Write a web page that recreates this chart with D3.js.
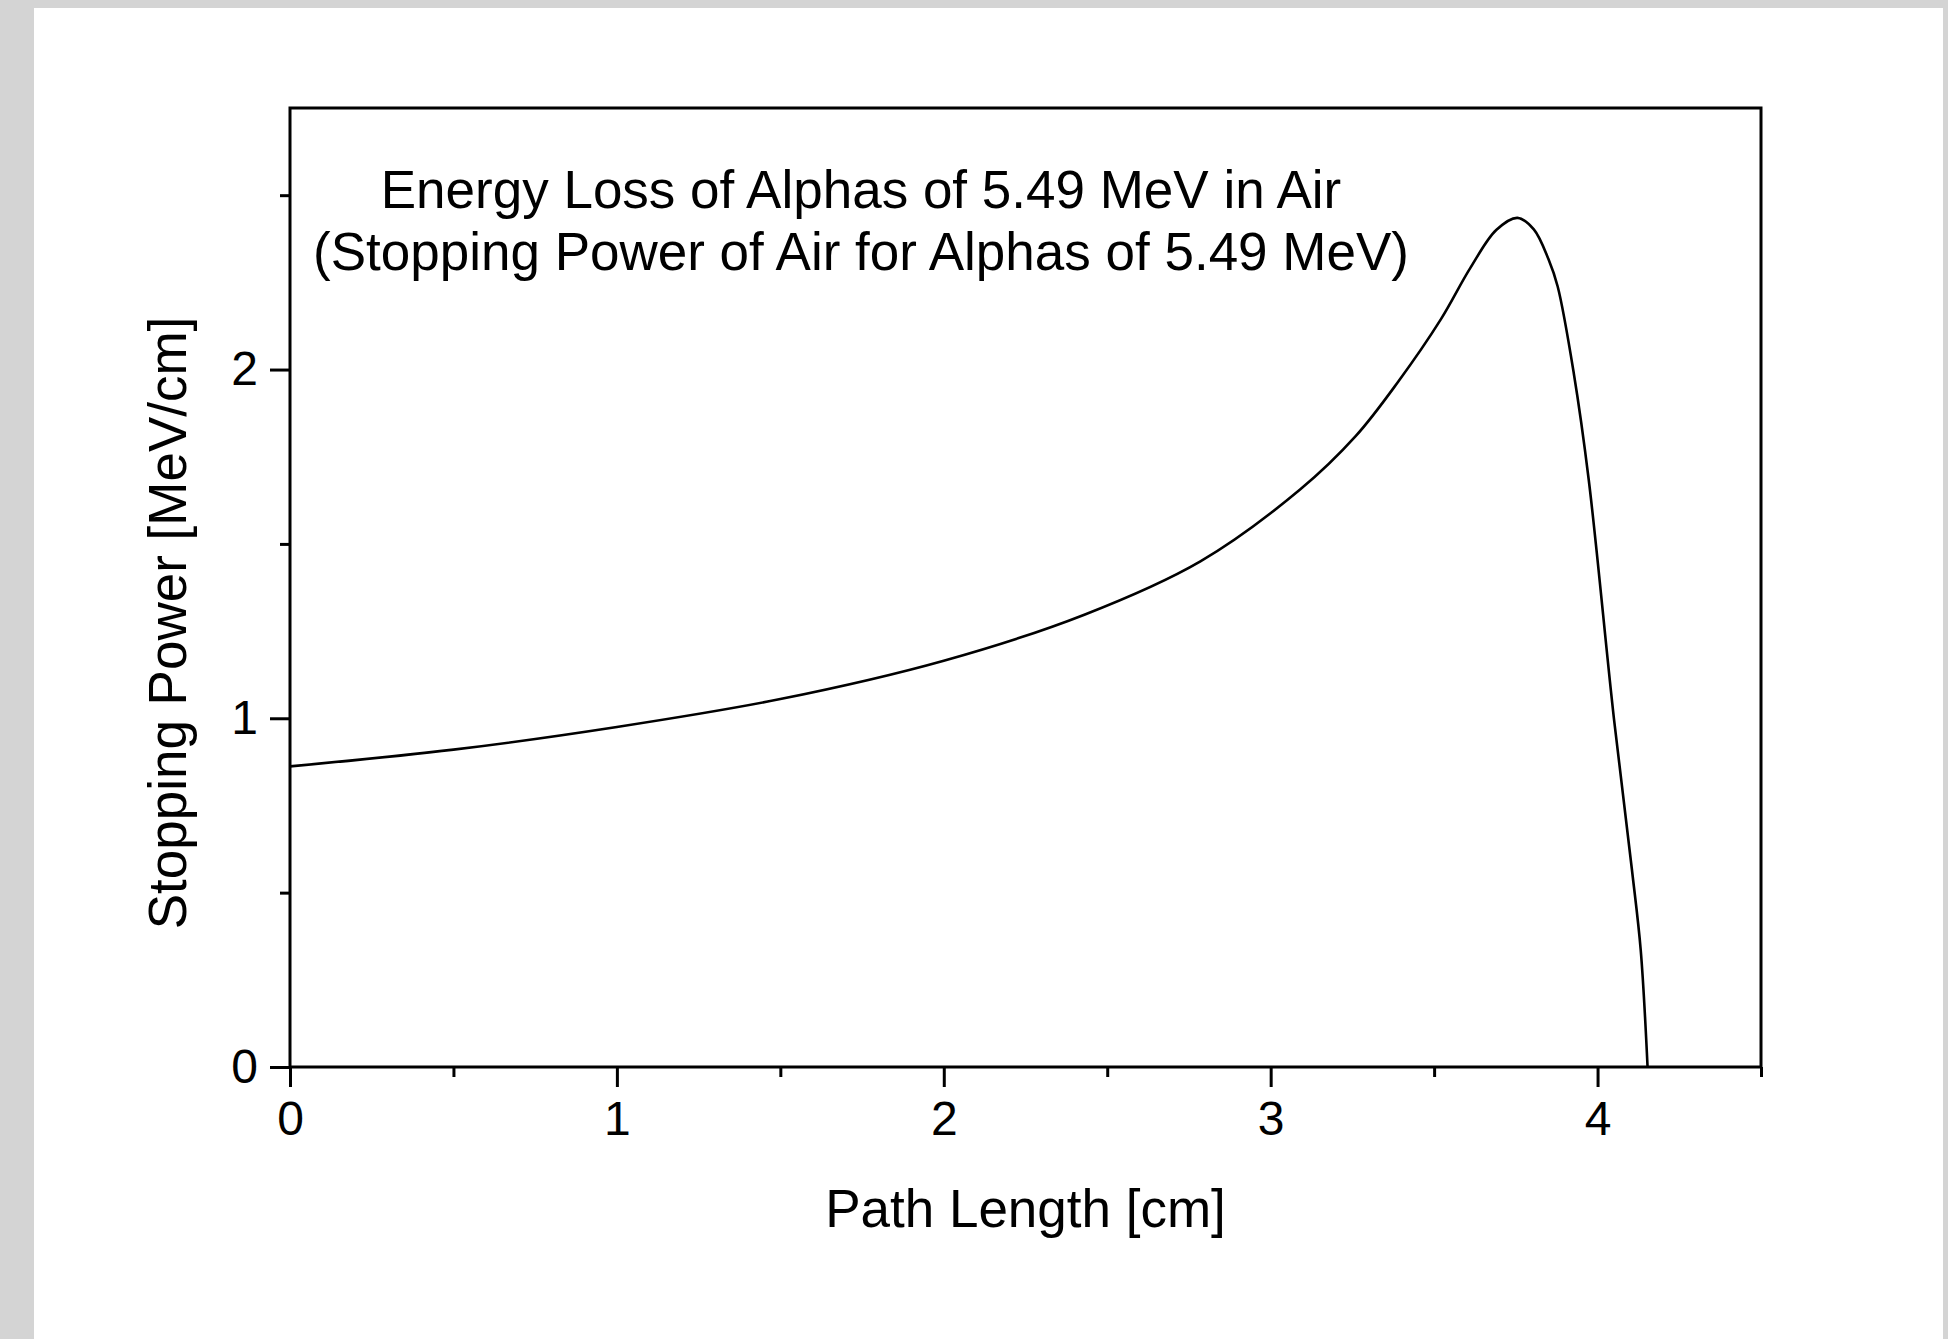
<!DOCTYPE html>
<html>
<head>
<meta charset="utf-8">
<script src="https://cdn.jsdelivr.net/npm/d3@7"></script>
<style>
  body { margin: 0; background: #d4d4d4; }
  svg { display: block; font-family: "Liberation Sans", Arial, sans-serif; }
</style>
</head>
<body>
<div id="chart"></div>
<script>
// Path length [cm] and stopping power [MeV/cm]
var pathLength = [0, 0.5, 1.0, 1.5, 2.0, 2.43, 2.785, 3.09, 3.26, 3.39, 3.52,
  3.61, 3.69, 3.755, 3.805, 3.85, 3.878, 3.927, 3.973, 4.05, 4.105, 4.132, 4.153];
var stoppingPower = [0.862, 0.91, 0.975, 1.055, 1.165, 1.297, 1.45, 1.656, 1.809, 1.965, 2.143,
  2.29, 2.4, 2.435, 2.402, 2.316, 2.238, 1.991, 1.684, 1.0, 0.567, 0.336, 0];

var xMajor = [0, 1, 2, 3, 4];
var xMinor = [0.5, 1.5, 2.5, 3.5, 4.5];
var yMajor = [0, 1, 2];
var yMinor = [0.5, 1.5, 2.5];

var titleLines = ["Energy Loss of Alphas of 5.49 MeV in Air",
  "(Stopping Power of Air for Alphas of 5.49 MeV)"];

var svgWidth = 1948;
var svgHeight = 1339;

var margin = { top: 108, right: 187, bottom: 272, left: 290 };
var width = svgWidth - margin.left - margin.right;
var height = svgHeight - margin.top - margin.bottom;

var svg = d3.select("#chart")
  .append("svg")
  .attr("width", svgWidth)
  .attr("height", svgHeight);

// white page on grey
svg.append("rect")
  .attr("x", 34).attr("y", 8)
  .attr("width", 1909).attr("height", svgHeight - 8)
  .attr("fill", "#fff");

var chartGroup = svg.append("g")
  .attr("transform", `translate(${margin.left}, ${margin.top})`);

var x = d3.scaleLinear().domain([0, 4.5]).range([0, width]);
var y = d3.scaleLinear().domain([0, 2.75]).range([height, 0]);

// minor ticks first, then major ticks with labels
chartGroup.append("g")
  .attr("transform", `translate(0, ${height})`)
  .call(d3.axisBottom(x).tickValues(xMinor).tickSize(10).tickFormat(""));
chartGroup.append("g")
  .call(d3.axisLeft(y).tickValues(yMinor).tickSize(10).tickFormat(""));

chartGroup.append("g")
  .attr("class", "xaxis")
  .attr("transform", `translate(0, ${height})`)
  .call(d3.axisBottom(x).tickValues(xMajor).tickSize(20).tickPadding(14).tickFormat(d3.format("d")));
chartGroup.append("g")
  .attr("class", "yaxis")
  .call(d3.axisLeft(y).tickValues(yMajor).tickSize(20).tickPadding(12).tickFormat(d3.format("d")));

chartGroup.selectAll(".domain").remove();
chartGroup.selectAll(".tick line").attr("stroke", "#000").attr("stroke-width", 3);
chartGroup.selectAll(".tick text")
  .attr("fill", "#000")
  .attr("font-size", "48px")
  .attr("font-family", "Liberation Sans, Arial, sans-serif");

// frame
chartGroup.append("rect")
  .attr("width", width)
  .attr("height", height)
  .attr("fill", "none")
  .attr("stroke", "#000")
  .attr("stroke-width", 3);

// curve
var points = pathLength.map((d, i) => [d, stoppingPower[i]]);
var line = d3.line()
  .x(d => x(d[0]))
  .y(d => y(d[1]))
  .curve(d3.curveCatmullRom.alpha(0.5));

chartGroup.append("path")
  .datum(points)
  .attr("d", line)
  .attr("fill", "none")
  .attr("stroke", "#000")
  .attr("stroke-width", 2.6)
  .attr("stroke-linejoin", "round");

// title inside plot
var title = svg.append("text")
  .attr("text-anchor", "middle")
  .attr("font-size", "53px")
  .attr("fill", "#000");
title.selectAll("tspan")
  .data(titleLines)
  .join("tspan")
  .attr("x", 861)
  .attr("y", (d, i) => 208 + i * 62)
  .text(d => d);

// axis labels
svg.append("text")
  .attr("x", margin.left + width / 2)
  .attr("y", 1227)
  .attr("text-anchor", "middle")
  .attr("font-size", "53px")
  .text("Path Length [cm]");

svg.append("text")
  .attr("transform", "translate(186, 623) rotate(-90)")
  .attr("text-anchor", "middle")
  .attr("font-size", "53px")
  .text("Stopping Power [MeV/cm]");
</script>
</body>
</html>
